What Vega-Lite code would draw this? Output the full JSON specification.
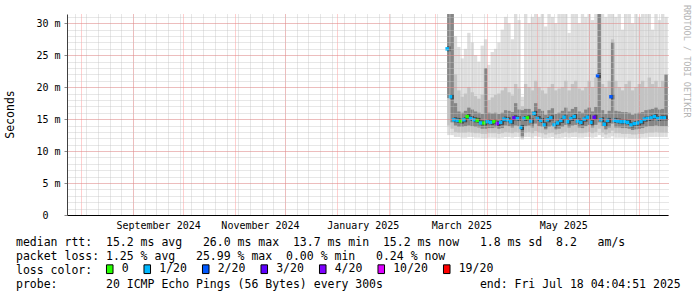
{
  "$schema": "https://vega.github.io/schema/vega-lite/v6.json",
  "autosize": {"type": "none"},
  "padding": {"left": 67, "top": 14, "right": 29, "bottom": 82},
  "width": 601,
  "height": 201,
  "background": "white",
  "config": {"view": {"stroke": null}},
  "title": {"text": "RRDTOOL / TOBI OETIKER", "orient": "right", "anchor": "start", "frame": "group", "font": "DejaVu Sans Mono", "fontSize": 8.5, "fontWeight": "normal", "color": "#b4b4b4", "offset": 2, "dx": -9},
  "data": {"values": [
    {"d":"2025-03-08T00:00","e":"2025-03-10T00:00","lo":12.5,"l2":14.0,"l3":18.3,"m":26.0,"u3":33,"u2":33,"hi":33,"loss":"1/20"},
    {"d":"2025-03-10T00:00","e":"2025-03-12T00:00","lo":12.5,"l2":13.5,"l3":14.5,"m":18.5,"u3":33,"u2":33,"hi":33,"loss":"1/20"},
    {"d":"2025-03-12T00:00","e":"2025-03-14T00:00","lo":12.2,"l2":13.0,"l3":14.0,"m":14.9,"u3":17.5,"u2":22.0,"hi":28.0,"loss":"1/20"},
    {"d":"2025-03-14T00:00","e":"2025-03-16T00:00","lo":12.2,"l2":12.9,"l3":13.8,"m":14.8,"u3":16.2,"u2":19.5,"hi":26.3,"loss":"1/20"},
    {"d":"2025-03-16T00:00","e":"2025-03-18T00:00","lo":12.1,"l2":12.9,"l3":13.8,"m":14.7,"u3":16.0,"u2":18.5,"hi":24.5,"loss":"0"},
    {"d":"2025-03-18T00:00","e":"2025-03-20T00:00","lo":12.1,"l2":12.9,"l3":13.9,"m":14.9,"u3":16.3,"u2":19.0,"hi":26.0,"loss":"1/20"},
    {"d":"2025-03-20T00:00","e":"2025-03-22T00:00","lo":12.2,"l2":13.0,"l3":14.0,"m":15.4,"u3":16.8,"u2":20.0,"hi":28.5,"loss":"0"},
    {"d":"2025-03-22T00:00","e":"2025-03-24T00:00","lo":12.2,"l2":12.9,"l3":13.9,"m":15.1,"u3":16.5,"u2":19.2,"hi":27.0,"loss":"1/20"},
    {"d":"2025-03-24T00:00","e":"2025-03-26T00:00","lo":12.1,"l2":12.8,"l3":13.8,"m":14.9,"u3":16.2,"u2":18.6,"hi":25.0,"loss":"1/20"},
    {"d":"2025-03-26T00:00","e":"2025-03-28T00:00","lo":12.1,"l2":12.8,"l3":13.7,"m":14.8,"u3":16.0,"u2":18.2,"hi":24.0,"loss":"0"},
    {"d":"2025-03-28T00:00","e":"2025-03-30T00:00","lo":12.0,"l2":12.7,"l3":13.5,"m":14.4,"u3":15.8,"u2":18.8,"hi":26.5,"loss":"1/20"},
    {"d":"2025-03-30T00:00","e":"2025-04-01T00:00","lo":12.0,"l2":12.7,"l3":13.5,"m":14.4,"u3":23.0,"u2":19.5,"hi":27.5,"loss":"0"},
    {"d":"2025-04-01T00:00","e":"2025-04-03T00:00","lo":12.1,"l2":12.8,"l3":13.6,"m":14.6,"u3":16.0,"u2":18.0,"hi":23.5,"loss":"1/20"},
    {"d":"2025-04-03T00:00","e":"2025-04-05T00:00","lo":12.1,"l2":12.8,"l3":13.6,"m":14.5,"u3":15.9,"u2":18.4,"hi":25.5,"loss":"1/20"},
    {"d":"2025-04-05T00:00","e":"2025-04-07T00:00","lo":12.1,"l2":12.8,"l3":13.7,"m":14.6,"u3":16.0,"u2":18.8,"hi":26.0,"loss":"0"},
    {"d":"2025-04-07T00:00","e":"2025-04-09T00:00","lo":12.0,"l2":12.7,"l3":13.5,"m":14.3,"u3":15.8,"u2":19.0,"hi":27.0,"loss":"4/20"},
    {"d":"2025-04-09T00:00","e":"2025-04-11T00:00","lo":12.1,"l2":12.8,"l3":13.6,"m":14.5,"u3":16.0,"u2":19.5,"hi":29.0,"loss":"1/20"},
    {"d":"2025-04-11T00:00","e":"2025-04-13T00:00","lo":12.2,"l2":13.0,"l3":14.0,"m":15.0,"u3":16.4,"u2":20.0,"hi":31.0,"loss":"1/20"},
    {"d":"2025-04-13T00:00","e":"2025-04-15T00:00","lo":12.2,"l2":12.9,"l3":13.9,"m":14.9,"u3":16.3,"u2":19.2,"hi":30.0,"loss":"1/20"},
    {"d":"2025-04-15T00:00","e":"2025-04-17T00:00","lo":12.1,"l2":12.8,"l3":13.7,"m":14.6,"u3":16.1,"u2":18.7,"hi":27.5,"loss":"1/20"},
    {"d":"2025-04-17T00:00","e":"2025-04-19T00:00","lo":12.2,"l2":13.0,"l3":14.0,"m":15.2,"u3":17.5,"u2":20.5,"hi":31.5,"loss":"3/20"},
    {"d":"2025-04-19T00:00","e":"2025-04-21T00:00","lo":12.2,"l2":12.9,"l3":13.9,"m":15.1,"u3":16.5,"u2":19.8,"hi":30.5,"loss":"1/20"},
    {"d":"2025-04-21T00:00","e":"2025-04-23T00:00","lo":11.8,"l2":12.0,"l3":12.3,"m":13.7,"u3":16.4,"u2":17.0,"hi":18.5,"loss":"1/20"},
    {"d":"2025-04-23T00:00","e":"2025-04-25T00:00","lo":12.2,"l2":12.9,"l3":13.9,"m":15.1,"u3":16.6,"u2":20.5,"hi":31.5,"loss":"1/20"},
    {"d":"2025-04-25T00:00","e":"2025-04-27T00:00","lo":12.2,"l2":13.0,"l3":14.0,"m":15.2,"u3":16.6,"u2":20.0,"hi":30.0,"loss":"0"},
    {"d":"2025-04-27T00:00","e":"2025-04-29T00:00","lo":12.1,"l2":12.8,"l3":13.7,"m":14.7,"u3":16.2,"u2":19.5,"hi":31.0,"loss":"1/20"},
    {"d":"2025-04-29T00:00","e":"2025-05-01T00:00","lo":12.3,"l2":13.1,"l3":14.3,"m":15.9,"u3":17.5,"u2":21.0,"hi":32.0,"loss":"1/20"},
    {"d":"2025-05-01T00:00","e":"2025-05-03T00:00","lo":12.2,"l2":12.9,"l3":13.9,"m":15.1,"u3":16.6,"u2":20.0,"hi":31.0,"loss":"1/20"},
    {"d":"2025-05-03T00:00","e":"2025-05-05T00:00","lo":12.1,"l2":12.8,"l3":13.8,"m":14.8,"u3":16.3,"u2":19.5,"hi":32.0,"loss":"1/20"},
    {"d":"2025-05-05T00:00","e":"2025-05-07T00:00","lo":12.0,"l2":12.6,"l3":13.4,"m":14.1,"u3":15.7,"u2":19.0,"hi":29.5,"loss":"1/20"},
    {"d":"2025-05-07T00:00","e":"2025-05-09T00:00","lo":12.1,"l2":12.8,"l3":13.8,"m":14.9,"u3":16.4,"u2":20.0,"hi":32.0,"loss":"1/20"},
    {"d":"2025-05-09T00:00","e":"2025-05-11T00:00","lo":12.2,"l2":12.9,"l3":14.0,"m":15.2,"u3":16.7,"u2":20.5,"hi":31.0,"loss":"1/20"},
    {"d":"2025-05-11T00:00","e":"2025-05-13T00:00","lo":12.0,"l2":12.6,"l3":13.4,"m":14.1,"u3":15.8,"u2":19.5,"hi":30.0,"loss":"1/20"},
    {"d":"2025-05-13T00:00","e":"2025-05-15T00:00","lo":12.0,"l2":12.7,"l3":13.5,"m":14.4,"u3":16.0,"u2":19.8,"hi":32.0,"loss":"1/20"},
    {"d":"2025-05-15T00:00","e":"2025-05-17T00:00","lo":12.1,"l2":12.8,"l3":13.8,"m":14.8,"u3":16.3,"u2":20.0,"hi":31.5,"loss":"1/20"},
    {"d":"2025-05-17T00:00","e":"2025-05-19T00:00","lo":12.2,"l2":13.0,"l3":14.1,"m":15.3,"u3":16.8,"u2":21.0,"hi":32.0,"loss":"1/20"},
    {"d":"2025-05-19T00:00","e":"2025-05-21T00:00","lo":12.1,"l2":12.8,"l3":13.7,"m":14.6,"u3":16.2,"u2":19.5,"hi":28.5,"loss":"1/20"},
    {"d":"2025-05-21T00:00","e":"2025-05-23T00:00","lo":12.2,"l2":12.9,"l3":14.0,"m":15.1,"u3":16.6,"u2":20.5,"hi":31.5,"loss":"1/20"},
    {"d":"2025-05-23T00:00","e":"2025-05-25T00:00","lo":12.2,"l2":13.0,"l3":14.1,"m":15.4,"u3":16.9,"u2":21.0,"hi":32.0,"loss":"1/20"},
    {"d":"2025-05-25T00:00","e":"2025-05-27T00:00","lo":12.1,"l2":12.8,"l3":13.7,"m":14.7,"u3":16.2,"u2":19.8,"hi":30.0,"loss":"1/20"},
    {"d":"2025-05-27T00:00","e":"2025-05-29T00:00","lo":12.1,"l2":12.8,"l3":13.6,"m":14.5,"u3":16.0,"u2":19.5,"hi":32.0,"loss":"1/20"},
    {"d":"2025-05-29T00:00","e":"2025-05-31T00:00","lo":12.2,"l2":12.9,"l3":13.9,"m":15.0,"u3":16.5,"u2":20.0,"hi":31.0,"loss":"1/20"},
    {"d":"2025-05-31T00:00","e":"2025-06-02T00:00","lo":12.2,"l2":13.0,"l3":14.1,"m":15.3,"u3":16.8,"u2":21.0,"hi":32.0,"loss":"1/20"},
    {"d":"2025-06-02T00:00","e":"2025-06-04T00:00","lo":12.1,"l2":12.8,"l3":13.7,"m":14.5,"u3":16.2,"u2":20.0,"hi":30.5,"loss":"1/20"},
    {"d":"2025-06-04T00:00","e":"2025-06-06T00:00","lo":12.2,"l2":13.0,"l3":14.1,"m":15.3,"u3":16.9,"u2":21.5,"hi":32.0,"loss":"3/20"},
    {"d":"2025-06-06T00:00","e":"2025-06-08T00:00","lo":12.5,"l2":13.5,"l3":14.5,"m":21.8,"u3":33,"u2":33,"hi":33,"loss":"2/20"},
    {"d":"2025-06-08T00:00","e":"2025-06-10T00:00","lo":12.2,"l2":12.9,"l3":13.9,"m":14.9,"u3":16.4,"u2":20.5,"hi":32.0,"loss":"1/20"},
    {"d":"2025-06-10T00:00","e":"2025-06-12T00:00","lo":12.0,"l2":12.6,"l3":13.4,"m":14.2,"u3":15.8,"u2":20.0,"hi":31.0,"loss":"1/20"},
    {"d":"2025-06-12T00:00","e":"2025-06-14T00:00","lo":12.1,"l2":12.8,"l3":13.7,"m":14.8,"u3":16.3,"u2":21.0,"hi":32.0,"loss":"1/20"},
    {"d":"2025-06-14T00:00","e":"2025-06-16T00:00","lo":12.3,"l2":13.2,"l3":14.3,"m":18.5,"u3":27.0,"u2":27.5,"hi":32.0,"loss":"2/20"},
    {"d":"2025-06-16T00:00","e":"2025-06-18T00:00","lo":12.1,"l2":12.8,"l3":13.7,"m":14.8,"u3":16.3,"u2":21.0,"hi":31.0,"loss":"1/20"},
    {"d":"2025-06-18T00:00","e":"2025-06-20T00:00","lo":12.1,"l2":12.8,"l3":13.7,"m":14.7,"u3":16.2,"u2":20.0,"hi":32.0,"loss":"1/20"},
    {"d":"2025-06-20T00:00","e":"2025-06-22T00:00","lo":12.1,"l2":12.7,"l3":13.6,"m":14.6,"u3":16.1,"u2":19.5,"hi":29.0,"loss":"1/20"},
    {"d":"2025-06-22T00:00","e":"2025-06-24T00:00","lo":12.1,"l2":12.7,"l3":13.6,"m":14.6,"u3":16.1,"u2":20.5,"hi":32.0,"loss":"1/20"},
    {"d":"2025-06-24T00:00","e":"2025-06-26T00:00","lo":12.0,"l2":12.7,"l3":13.5,"m":14.5,"u3":16.0,"u2":21.0,"hi":32.0,"loss":"1/20"},
    {"d":"2025-06-26T00:00","e":"2025-06-28T00:00","lo":12.0,"l2":12.6,"l3":13.3,"m":14.1,"u3":15.7,"u2":19.5,"hi":30.0,"loss":"1/20"},
    {"d":"2025-06-28T00:00","e":"2025-06-30T00:00","lo":12.0,"l2":12.6,"l3":13.4,"m":14.3,"u3":15.9,"u2":20.0,"hi":32.0,"loss":"1/20"},
    {"d":"2025-06-30T00:00","e":"2025-07-02T00:00","lo":12.0,"l2":12.7,"l3":13.5,"m":14.4,"u3":16.0,"u2":20.5,"hi":31.0,"loss":"1/20"},
    {"d":"2025-07-02T00:00","e":"2025-07-04T00:00","lo":12.1,"l2":12.7,"l3":13.6,"m":14.6,"u3":16.1,"u2":21.0,"hi":32.0,"loss":"1/20"},
    {"d":"2025-07-04T00:00","e":"2025-07-06T00:00","lo":12.1,"l2":12.8,"l3":13.8,"m":15.0,"u3":16.4,"u2":20.0,"hi":32.0,"loss":"1/20"},
    {"d":"2025-07-06T00:00","e":"2025-07-08T00:00","lo":12.2,"l2":12.9,"l3":13.9,"m":15.1,"u3":16.5,"u2":21.5,"hi":32.0,"loss":"1/20"},
    {"d":"2025-07-08T00:00","e":"2025-07-10T00:00","lo":12.2,"l2":12.9,"l3":13.9,"m":15.2,"u3":16.6,"u2":20.5,"hi":29.0,"loss":"1/20"},
    {"d":"2025-07-10T00:00","e":"2025-07-12T00:00","lo":12.2,"l2":13.0,"l3":14.0,"m":15.4,"u3":16.8,"u2":21.0,"hi":32.0,"loss":"1/20"},
    {"d":"2025-07-12T00:00","e":"2025-07-14T00:00","lo":12.2,"l2":12.9,"l3":13.9,"m":15.1,"u3":16.5,"u2":20.0,"hi":30.5,"loss":"1/20"},
    {"d":"2025-07-14T00:00","e":"2025-07-16T00:00","lo":12.2,"l2":12.9,"l3":13.9,"m":15.2,"u3":16.6,"u2":21.0,"hi":32.0,"loss":"1/20"},
    {"d":"2025-07-16T00:00","e":"2025-07-18T00:00","lo":12.2,"l2":12.9,"l3":13.9,"m":15.2,"u3":22.0,"u2":20.5,"hi":31.0,"loss":"1/20"}
  ]},
  "resolve": {"axis": {"x": "independent", "y": "independent"}},
  "layer": [
    {
      "mark": {"type": "rect", "color": "#dedede", "clip": true},
      "encoding": {
        "x": {"field": "d", "type": "temporal",
              "scale": {"domain": [{"year": 2024, "month": 7, "date": 23, "hours": 12}, {"year": 2025, "month": 7, "date": 18, "hours": 4, "minutes": 4, "seconds": 51}]},
              "axis": {"orient": "bottom", "tickCount": {"interval": "week", "step": 1}, "grid": true, "gridColor": "#c4c4c4", "gridOpacity": 0.8, "gridDash": [1, 1], "labels": false, "ticks": false, "domain": false, "title": null, "zindex": 1}},
        "x2": {"field": "e"},
        "y": {"field": "lo", "type": "quantitative",
              "scale": {"domain": [0, 31.45], "nice": false, "zero": false},
              "axis": {"orient": "left", "values": [0,1,2,3,4,5,6,7,8,9,10,11,12,13,14,15,16,17,18,19,20,21,22,23,24,25,26,27,28,29,30,31], "grid": true, "gridColor": "#c4c4c4", "gridOpacity": 0.8, "gridDash": [1, 1], "labels": false, "ticks": false, "domain": false, "title": null, "zindex": 1}},
        "y2": {"field": "hi"}
      }
    },
    {
      "mark": {"type": "rect", "color": "#c3c3c3", "clip": true},
      "encoding": {
        "x": {"field": "d", "type": "temporal",
              "axis": {"orient": "bottom", "tickCount": {"interval": "month", "step": 1}, "grid": true, "gridColor": "#ff5050", "gridOpacity": 0.55, "gridDash": [1, 1], "labels": false, "ticks": false, "domain": false, "title": null, "zindex": 1}},
        "x2": {"field": "e"},
        "y": {"field": "l2", "type": "quantitative",
              "axis": {"orient": "left", "values": [0, 5, 10, 15, 20, 25, 30], "grid": true, "gridColor": "#ff5050", "gridOpacity": 0.55, "gridDash": [1, 1],
                       "labelExpr": "datum.value == 0 ? '0' : datum.value + ' m'",
                       "labelFont": "DejaVu Sans Mono", "labelFontSize": 10, "labelColor": "#000000",
                       "ticks": true, "tickSize": 3, "tickColor": "#8a8a8a",
                       "labelPadding": {"condition": {"test": "datum.value == 0", "value": 16}, "value": 4},
                       "domain": true, "domainColor": "#404040", "domainWidth": 1,
                       "title": "Seconds", "titleFont": "DejaVu Sans Mono", "titleFontSize": 11.5, "titleFontWeight": "normal", "titleColor": "#000000",
                       "titleX": -56.5, "titleY": 100, "titleAlign": "center", "titleBaseline": "middle", "titleAngle": -90, "zindex": 1}},
        "y2": {"field": "u2"}
      }
    },
    {
      "mark": {"type": "rect", "color": "#868686", "clip": true},
      "encoding": {
        "x": {"field": "d", "type": "temporal",
              "axis": {"orient": "bottom",
                       "values": [{"year": 2024, "month": 9, "date": 16}, {"year": 2024, "month": 11, "date": 16}, {"year": 2025, "month": 1, "date": 16, "hours": 12}, {"year": 2025, "month": 3, "date": 16, "hours": 12}, {"year": 2025, "month": 5, "date": 16, "hours": 12}],
                       "format": "%B %Y", "labelFont": "DejaVu Sans Mono", "labelFontSize": 10, "labelColor": "#000000", "labelPadding": 5, "labelFlush": false, "labelOverlap": false,
                       "ticks": false, "grid": false, "domain": true, "domainColor": "#000000", "domainWidth": 1,
                       "title": ["median rtt:\u00a0\u00a015.2 ms avg\u00a0\u00a0\u00a026.0 ms max\u00a0\u00a013.7 ms min\u00a0\u00a015.2 ms now\u00a0\u00a0\u00a01.8 ms sd\u00a0\u00a08.2\u00a0\u00a0\u00a0am/s", "packet loss: 1.25 % avg\u00a0\u00a0\u00a025.99 % max\u00a0\u00a00.00 % min\u00a0\u00a0\u00a00.24 % now", "loss color:", "probe:\u00a0\u00a0\u00a0\u00a0\u00a0\u00a0\u00a020 ICMP Echo Pings (56 Bytes) every 300s\u00a0\u00a0\u00a0\u00a0\u00a0\u00a0\u00a0\u00a0\u00a0\u00a0\u00a0\u00a0\u00a0\u00a0end: Fri Jul 18 04:04:51 2025"],
                       "titleFont": "DejaVu Sans Mono", "titleFontSize": 11.5, "titleFontWeight": "normal", "titleColor": "#000000",
                       "titleAnchor": "start", "titleAlign": "left", "titleBaseline": "top", "titleX": -51.5, "titleY": 21, "titleLineHeight": 14, "zindex": 1}},
        "x2": {"field": "e"},
        "y": {"field": "l3", "type": "quantitative", "axis": null},
        "y2": {"field": "u3"}
      }
    },
    {
      "mark": {"type": "rule", "color": "#454545", "strokeWidth": 5, "clip": true},
      "encoding": {
        "x": {"field": "d", "type": "temporal", "axis": null},
        "x2": {"field": "e"},
        "y": {"field": "m", "type": "quantitative", "axis": null}
      }
    },
    {
      "mark": {"type": "point", "shape": "square", "filled": true, "size": 12, "opacity": 1, "strokeWidth": 0, "clip": true},
      "encoding": {
        "x": {"field": "d", "type": "temporal", "axis": null},
        "y": {"field": "m", "type": "quantitative", "axis": null},
        "fill": {"field": "loss", "type": "nominal",
                  "scale": {"domain": ["0", "1/20", "2/20", "3/20", "4/20", "10/20", "19/20"], "range": ["#26ff00", "#00b8ff", "#0059ff", "#5e00ff", "#7e00ff", "#dd00ff", "#ff0000"]},
                  "legend": {"orient": "none", "legendX": 37, "legendY": 249, "direction": "horizontal", "title": null,
                             "symbolType": "M-0.75,-1H0.75V1H-0.75Z", "symbolSize": 76, "symbolStrokeWidth": 1, "symbolStrokeColor": "#000000", "symbolOpacity": 1,
                             "labelFont": "DejaVu Sans Mono", "labelFontSize": 11.5, "labelColor": "#000000", "labelOffset": 6.2, "columnPadding": 12.5,
                             "encode": {"symbols": {"update": {"stroke": {"value": "#000000"}, "strokeWidth": {"value": 1}}}}}}
      }
    }
  ]
}
